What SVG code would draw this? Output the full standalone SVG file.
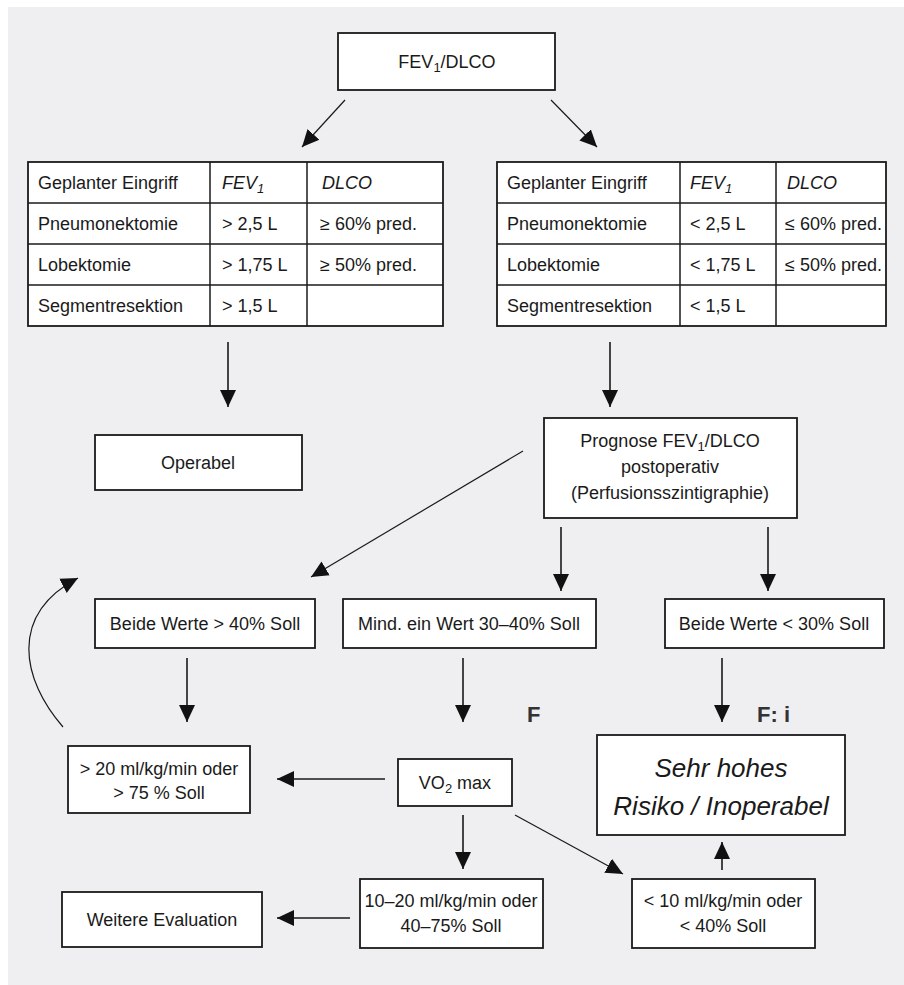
<svg xmlns="http://www.w3.org/2000/svg" width="904" height="985" viewBox="0 0 904 985">
<defs>
<style>
.box{fill:#fff;stroke:#1a1a1a;stroke-width:1.8}
.t{font-family:"Liberation Sans",Arial,sans-serif;font-size:18px;fill:#1a1a1a}
.c{text-anchor:middle}
.i{font-style:italic}
.big{font-size:26px}
.b{font-family:"Liberation Sans",Arial,sans-serif;font-weight:bold;font-size:22px;fill:#333}
.conn{stroke:#1a1a1a;stroke-width:1.6;fill:none;marker-end:url(#ah)}
.thin{stroke-width:1.2}
.tl{stroke:#1a1a1a;stroke-width:1.5}
</style>
<marker id="ah" markerUnits="userSpaceOnUse" markerWidth="18" markerHeight="18" viewBox="0 0 18 18" refX="17" refY="9" orient="auto">
<path d="M0,1 L17,9 L0,17 Z" fill="#111"/>
</marker>
</defs>
<rect x="0" y="0" width="904" height="985" fill="#fff"/>
<rect x="8" y="7" width="896" height="978" fill="#efeff1"/>

<g id="node-fev">
<rect class="box" x="338" y="33" width="217" height="57"/>
<text class="t c" x="447" y="68">FEV<tspan font-size="13" dy="4">1</tspan><tspan dy="-4">/DLCO</tspan></text>
</g>

<g id="table-left">
<rect class="box" x="28" y="162" width="415" height="164"/>
<line class="tl" x1="210" y1="162" x2="210" y2="326"/>
<line class="tl" x1="307" y1="162" x2="307" y2="326"/>
<line class="tl" x1="28" y1="203" x2="443" y2="203"/>
<line class="tl" x1="28" y1="244" x2="443" y2="244"/>
<line class="tl" x1="28" y1="285" x2="443" y2="285"/>
<text class="t" x="38" y="189">Geplanter Eingriff</text>
<text class="t i" x="222" y="189">FEV<tspan font-size="13" dy="4">1</tspan></text>
<text class="t i" x="322" y="189">DLCO</text>
<text class="t" x="38" y="230">Pneumonektomie</text>
<text class="t" x="222" y="230">&gt; 2,5 L</text>
<text class="t" x="320" y="230">≥ 60% pred.</text>
<text class="t" x="38" y="271">Lobektomie</text>
<text class="t" x="222" y="271">&gt; 1,75 L</text>
<text class="t" x="320" y="271">≥ 50% pred.</text>
<text class="t" x="38" y="312">Segmentresektion</text>
<text class="t" x="222" y="312">&gt; 1,5 L</text>
</g>

<g id="table-right">
<rect class="box" x="497" y="162" width="389" height="164"/>
<line class="tl" x1="680" y1="162" x2="680" y2="326"/>
<line class="tl" x1="776" y1="162" x2="776" y2="326"/>
<line class="tl" x1="497" y1="203" x2="886" y2="203"/>
<line class="tl" x1="497" y1="244" x2="886" y2="244"/>
<line class="tl" x1="497" y1="285" x2="886" y2="285"/>
<text class="t" x="507" y="189">Geplanter Eingriff</text>
<text class="t i" x="690" y="189">FEV<tspan font-size="13" dy="4">1</tspan></text>
<text class="t i" x="787" y="189">DLCO</text>
<text class="t" x="507" y="230">Pneumonektomie</text>
<text class="t" x="690" y="230">&lt; 2,5 L</text>
<text class="t" x="785" y="230">≤ 60% pred.</text>
<text class="t" x="507" y="271">Lobektomie</text>
<text class="t" x="690" y="271">&lt; 1,75 L</text>
<text class="t" x="785" y="271">≤ 50% pred.</text>
<text class="t" x="507" y="312">Segmentresektion</text>
<text class="t" x="690" y="312">&lt; 1,5 L</text>
</g>

<g id="node-operabel">
<rect class="box" x="95" y="435" width="207" height="55"/>
<text class="t c" x="198" y="469">Operabel</text>
</g>

<g id="node-prognose">
<rect class="box" x="544" y="418" width="253" height="100"/>
<text class="t c" x="670" y="447">Prognose FEV<tspan font-size="13" dy="4">1</tspan><tspan dy="-4">/DLCO</tspan></text>
<text class="t c" x="670" y="473">postoperativ</text>
<text class="t c" x="670" y="499">(Perfusionsszintigraphie)</text>
</g>

<g id="node-beide40">
<rect class="box" x="95" y="599" width="220" height="49"/>
<text class="t c" x="205" y="630">Beide Werte &gt; 40% Soll</text>
</g>

<g id="node-mind">
<rect class="box" x="343" y="599" width="253" height="49"/>
<text class="t c" x="469" y="630">Mind. ein Wert 30–40% Soll</text>
</g>

<g id="node-beide30">
<rect class="box" x="665" y="599" width="219" height="49"/>
<text class="t c" x="774" y="630">Beide Werte &lt; 30% Soll</text>
</g>

<g id="label-f">
<text class="b" x="527" y="722">F</text>
</g>
<g id="label-fi">
<text class="b" x="757" y="722">F:  i</text>
</g>

<g id="node-sehr">
<rect class="box" x="597" y="735" width="248" height="100"/>
<text class="t c i big" x="721" y="777">Sehr hohes</text>
<text class="t c i big" x="721" y="815">Risiko / Inoperabel</text>
</g>

<g id="node-gt20">
<rect class="box" x="68" y="746" width="182" height="67"/>
<text class="t c" x="159" y="775">&gt; 20 ml/kg/min oder</text>
<text class="t c" x="159" y="799">&gt; 75 % Soll</text>
</g>

<g id="node-vo2">
<rect class="box" x="398" y="759" width="114" height="47"/>
<text class="t c" x="455" y="789">VO<tspan font-size="13" dy="4">2</tspan><tspan dy="-4"> max</tspan></text>
</g>

<g id="node-weitere">
<rect class="box" x="62" y="892" width="200" height="55"/>
<text class="t c" x="162" y="926">Weitere Evaluation</text>
</g>

<g id="node-10-20">
<rect class="box" x="360" y="879" width="183" height="69"/>
<text class="t c" x="451" y="907">10–20 ml/kg/min oder</text>
<text class="t c" x="451" y="932">40–75% Soll</text>
</g>

<g id="node-lt10">
<rect class="box" x="632" y="879" width="183" height="69"/>
<text class="t c" x="723" y="907">&lt; 10 ml/kg/min oder</text>
<text class="t c" x="723" y="932">&lt; 40% Soll</text>
</g>

<g id="connectors">
<line class="conn thin" x1="345" y1="100" x2="302" y2="147"/>
<line class="conn thin" x1="551" y1="100" x2="597" y2="147"/>
<line class="conn" x1="228" y1="342" x2="228" y2="407"/>
<line class="conn" x1="610" y1="342" x2="610" y2="407"/>
<line class="conn thin" x1="523" y1="451" x2="311" y2="577"/>
<line class="conn" x1="561" y1="527" x2="561" y2="591"/>
<line class="conn" x1="768" y1="527" x2="768" y2="591"/>
<line class="conn" x1="187" y1="658" x2="187" y2="722"/>
<line class="conn" x1="463" y1="658" x2="463" y2="722"/>
<line class="conn" x1="722" y1="658" x2="722" y2="722"/>
<path class="conn thin" d="M63,727 C22,680 8,615 78,578"/>
<line class="conn" x1="385" y1="779" x2="277" y2="779"/>
<line class="conn" x1="463" y1="815" x2="463" y2="869"/>
<line class="conn thin" x1="515" y1="815" x2="623" y2="874"/>
<line class="conn" x1="722" y1="870" x2="722" y2="842"/>
<line class="conn" x1="350" y1="918" x2="277" y2="918"/>
</g>
</svg>
